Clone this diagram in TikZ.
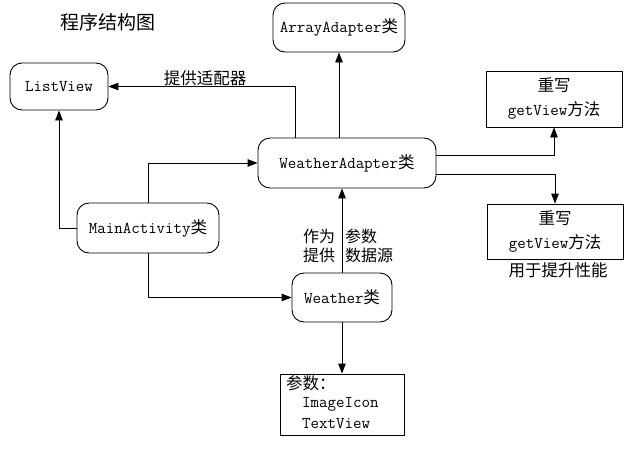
\documentclass[tikz,border=0pt]{standalone}
\usepackage{fontspec}
\newfontfamily\cjk{Noto Sans CJK SC}
\usetikzlibrary{arrows.meta}
\tikzset{
 rbox/.style={draw, rounded corners=12pt, line width=0.9pt, inner sep=0pt, align=center},
 sbox/.style={draw, line width=0.9pt, inner sep=0pt, align=center},
 plain/.style={inner sep=0pt},
 arr/.style={line width=0.9pt, -{Triangle[length=10pt,width=7.5pt]}},
}
\begin{document}
\begin{tikzpicture}[x=1pt,y=-1pt,font=\ttfamily\fontsize{16.5pt}{19pt}\selectfont]
\useasboundingbox (0,0) rectangle (636,460);
\node[plain, font=\cjk\fontsize{19pt}{22pt}\selectfont] (title) at (108,22) {程序结构图};
\node[rbox, minimum width=98pt, minimum height=47pt] (lv) at (59,86.5) {ListView};
\node[rbox, minimum width=132pt, minimum height=49pt] (aa) at (339,27.5) {ArrayAdapter{\cjk 类}};
\node[sbox, minimum width=136pt, minimum height=56pt] (g1) at (554,99) {{\cjk 重写}\\[5pt]getView{\cjk 方法}};
\node[rbox, minimum width=178pt, minimum height=50pt] (wa) at (347,163) {WeatherAdapter{\cjk 类}};
\node[sbox, minimum width=136pt, minimum height=55pt] (g2) at (555,231.5) {{\cjk 重写}\\[5pt]getView{\cjk 方法}};
\node[plain] (perf) at (558,270) {\cjk 用于提升性能};
\node[rbox, minimum width=142pt, minimum height=50pt] (ma) at (148,228) {MainActivity{\cjk 类}};
\node[rbox, minimum width=100pt, minimum height=49pt] (w) at (342,297.5) {Weather{\cjk 类}};
\node[sbox, minimum width=124pt, minimum height=61pt] (p) at (342,404.5) {};
\node[plain, anchor=west] (p1) at (286,383) {\cjk 参数：};
\node[plain, anchor=west] (p2) at (302,404) {ImageIcon};
\node[plain, anchor=west] (p3) at (302,424) {TextView};
\node[plain] (lbl) at (205,78) {\cjk 提供适配器};
\node[plain, align=right, font=\cjk\fontsize{16pt}{19pt}\selectfont] (l1) at (319,246) {作为\\提供};
\node[plain, align=left, anchor=west, font=\cjk\fontsize{16pt}{19pt}\selectfont] (l2) at (345,246) {参数\\数据源};
% connectors
\draw[arr] ([xshift=-52pt]wa.north) |- (lv.east);
\draw[arr] (wa.north -| aa.south) -- (aa.south);
\draw[arr] ([yshift=8pt]wa.east) -| (g1.south);
\draw[arr] ([yshift=-11pt]wa.east) -| (g2.north);
\draw[arr] (ma.west) -| (lv.south);
\draw[arr] (ma.north) |- (wa.west);
\draw[arr] (ma.south) |- (w.west);
\draw[arr] (w.north) -- (w.north |- wa.south);
\draw[arr] (w.south) -- (w.south |- p.north);
\end{tikzpicture}
\end{document}
